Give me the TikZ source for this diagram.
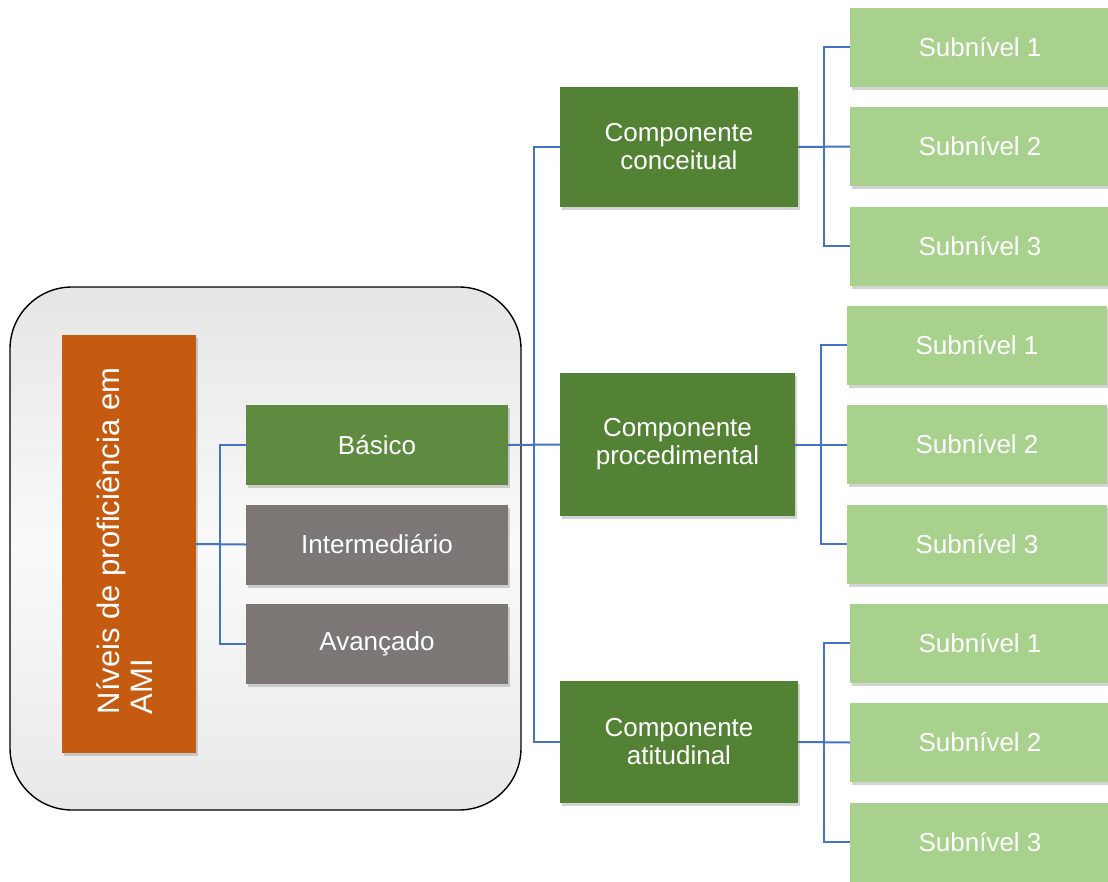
\documentclass[tikz,border=0pt]{standalone}
\usepackage{fontspec}
\setmainfont{Liberation Sans}
\usetikzlibrary{positioning,shadows}
\definecolor{laranja}{HTML}{C55A11}
\definecolor{verdeesc}{HTML}{548235}
\definecolor{verdebas}{HTML}{5F8B41}
\definecolor{cinza}{HTML}{7C7774}
\definecolor{verdecl}{HTML}{A9D18E}
\definecolor{azul}{HTML}{4472C4}
\begin{document}
\begin{tikzpicture}[x=1pt, y=-1pt, node distance={99.5pt}, linha/.style = {draw=azul, line width=2pt}]
                \tikzstyle{caixa} = [inner sep=0pt, outer sep=0pt, text=white, align=center,
                    font=\fontsize{26}{28}\selectfont,
                    drop shadow={shadow xshift=2pt, shadow yshift=-3pt, opacity=0.35}]
                \tikzstyle{nivel} = [caixa, minimum width=262pt, minimum height=80pt]
                \tikzstyle{comp} = [caixa, fill=verdeesc, minimum width=238pt, minimum height=120pt]
                \tikzstyle{sub} = [caixa, fill=verdecl, minimum width=260pt, minimum height=79pt]
                    \useasboundingbox (0,0) rectangle (1108,881);
                    \node[draw=black, line width=1.4pt, rounded corners=62pt, minimum width=511pt, minimum height=523pt,
                        top color=black!10, bottom color=black!9, middle color=black!2] (quadro) at (265.5,548.5) { };
                    \node[caixa, fill=laranja, minimum width=134pt, minimum height=418pt] (niveis) at (129,544) { };
                    \node[rotate=90, text=white, align=left, font=\fontsize{31}{33}\selectfont] (titulo) at (125,541) {Níveis de proficiência em\\AMI};
                    \node[nivel, fill=verdebas] (basico) at (377,445) {Básico};
                    \node[nivel, fill=cinza] (inter) [below of=basico] {Intermediário};
                    \node[nivel, fill=cinza] (avanc) [below of=inter] {Avançado};

                    \node[comp] (conc) at (679,147) {Componente\\conceitual};
                    \node[comp, minimum width=235pt, minimum height=143pt] (proc) at (677.5,444.5) {Componente\\procedimental};
                    \node[comp, minimum height=122pt] (atit) at (679,742) {Componente\\atitudinal};

                    \node[sub] (a1) at (980,47) {Subnível 1};
                    \node[sub] (a2) [below of=a1] {Subnível 2};
                    \node[sub] (a3) [below of=a2] {Subnível 3};
                    \node[sub] (b1) at (977,345) {Subnível 1};
                    \node[sub] (b2) [below of=b1] {Subnível 2};
                    \node[sub] (b3) [below of=b2] {Subnível 3};
                    \node[sub] (c1) at (980,643) {Subnível 1};
                    \node[sub] (c2) [below of=c1] {Subnível 2};
                    \node[sub] (c3) [below of=c2] {Subnível 3};

                    \draw[linha] (niveis.east) -- (inter.west);
                    \draw[linha] (niveis.east) -- ++(24,0) |- (basico.west);
                    \draw[linha] (niveis.east) -- ++(24,0) |- (avanc.west);
                    \draw[linha] (basico.east) -- (proc.west);
                    \draw[linha] (basico.east) -- ++(26,0) |- (conc.west);
                    \draw[linha] (basico.east) -- ++(26,0) |- (atit.west);
                    \draw[linha] (conc.east) -- (a2.west);
                    \draw[linha] (conc.east) -- ++(26,0) |- (a1.west);
                    \draw[linha] (conc.east) -- ++(26,0) |- (a3.west);
                    \draw[linha] (proc.east) -- (b2.west);
                    \draw[linha] (proc.east) -- ++(26,0) |- (b1.west);
                    \draw[linha] (proc.east) -- ++(26,0) |- (b3.west);
                    \draw[linha] (atit.east) -- (c2.west);
                    \draw[linha] (atit.east) -- ++(26,0) |- (c1.west);
                    \draw[linha] (atit.east) -- ++(26,0) |- (c3.west);

                \end{tikzpicture}
\end{document}
